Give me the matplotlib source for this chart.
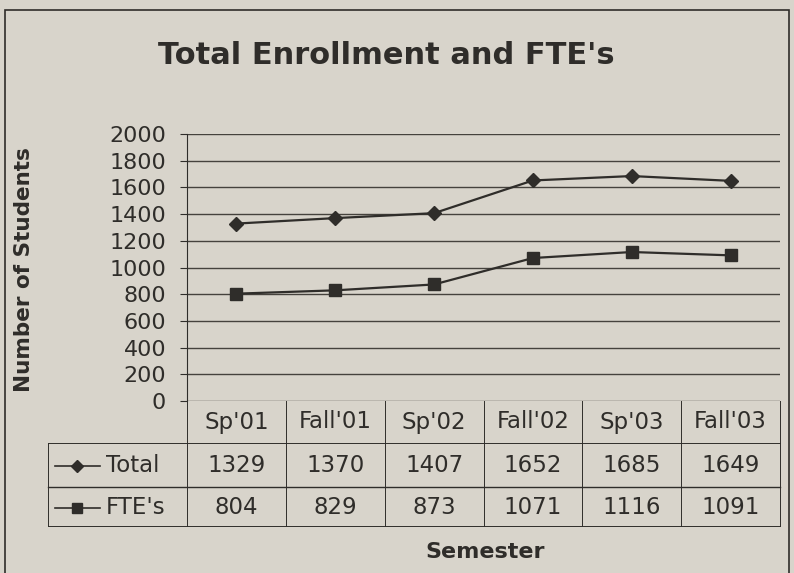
import numpy as np
import matplotlib.pyplot as plt
from matplotlib.lines import Line2D
from matplotlib.patches import Rectangle

# data
semestres = ["Sp'01", "Fall'01", "Sp'02", "Fall'02", "Sp'03", "Fall'03"]
total = [1329, 1370, 1407, 1652, 1685, 1649]
ftes = [804, 829, 873, 1071, 1116, 1091]
series_names = ["Total", "FTE's"]

papel = "#d8d4cb"
tinta = "#2f2d2a"
W, H = 794, 573

fig = plt.figure(figsize=(W / 100, H / 100), dpi=100, facecolor=papel)
ax = fig.add_axes([187 / W, (H - 401) / H, 593 / W, 267 / H])
ax.set_facecolor(papel)

x = np.arange(len(semestres))
ax.plot(x, total, color=tinta, lw=1.6, marker="D", ms=7, mfc=tinta, mec=tinta)
ax.plot(x, ftes, color=tinta, lw=1.6, marker="s", ms=8, mfc=tinta, mec=tinta)

ax.set_xlim(-0.5, len(semestres) - 0.5)
ax.set_ylim(0, 2000)
ax.set_yticks(range(0, 2001, 200))
ax.tick_params(axis="y", labelsize=16, colors=tinta, length=5, width=0.8, pad=10)
ax.tick_params(axis="x", bottom=False, labelbottom=False)
ax.grid(axis="y", color="#45423d", lw=1.0)
ax.set_axisbelow(True)
for s in ["top", "right", "bottom"]:
    ax.spines[s].set_visible(False)
ax.spines["left"].set_color(tinta)
ax.spines["left"].set_linewidth(0.8)

# titulo y etiquetas
fig.text(386 / W, 1 - 55 / H, "Total Enrollment and FTE's", ha="center", va="center",
         fontsize=22, fontweight="bold", color=tinta)
fig.text(24 / W, 1 - 270 / H, "Number of Students", rotation=90, ha="center", va="center",
         fontsize=15.5, fontweight="bold", color=tinta)
fig.text(485 / W, 1 - 552 / H, "Semester", ha="center", va="center",
         fontsize=16, fontweight="bold", color=tinta)

# tabla de datos debajo del eje
trans = ax.get_xaxis_transform()
def fy(py):
    return (401 - py) / 267

filas = [fy(422), fy(466), fy(508)]
for i, s in enumerate(semestres):
    ax.text(i, filas[0], s, transform=trans, ha="center", va="center", fontsize=16.5,
            color=tinta, clip_on=False)
    ax.text(i, filas[1], str(total[i]), transform=trans, ha="center", va="center",
            fontsize=16.5, color=tinta, clip_on=False)
    ax.text(i, filas[2], str(ftes[i]), transform=trans, ha="center", va="center",
            fontsize=16.5, color=tinta, clip_on=False)

# lineas de la tabla
def hline(x0, x1, py, lw=0.9):
    fig.add_artist(Line2D([x0 / W, x1 / W], [1 - py / H, 1 - py / H], color=tinta, lw=lw))

def vline(px, y0, y1, lw=0.9):
    fig.add_artist(Line2D([px / W, px / W], [1 - y0 / H, 1 - y1 / H], color=tinta, lw=lw))

hline(48, 780, 443, 0.7)
hline(48, 780, 487, 1.0)
hline(48, 780, 526, 0.7)
vline(48, 443, 526, 0.7)
for k in range(7):
    vline(187 + k * 593 / 6, 401, 526, 0.7)

# leyenda en la tabla
for py, mk, ms, nombre in [(466, "D", 6, series_names[0]), (508, "s", 7, series_names[1])]:
    fig.add_artist(Line2D([55 / W, 100 / W], [1 - py / H, 1 - py / H], color=tinta, lw=1.2))
    fig.add_artist(Line2D([77 / W], [1 - py / H], marker=mk, ms=ms, color=tinta))
    fig.text(106 / W, 1 - py / H, nombre, ha="left", va="center", fontsize=16.5, color=tinta)

# marco
fig.add_artist(Rectangle((5 / W, -0.01), 784 / W, 1 - 10 / H + 0.01, fill=False,
                         ec=tinta, lw=1.2, transform=fig.transFigure))

fig.savefig("out.png", dpi=100, facecolor=papel)
